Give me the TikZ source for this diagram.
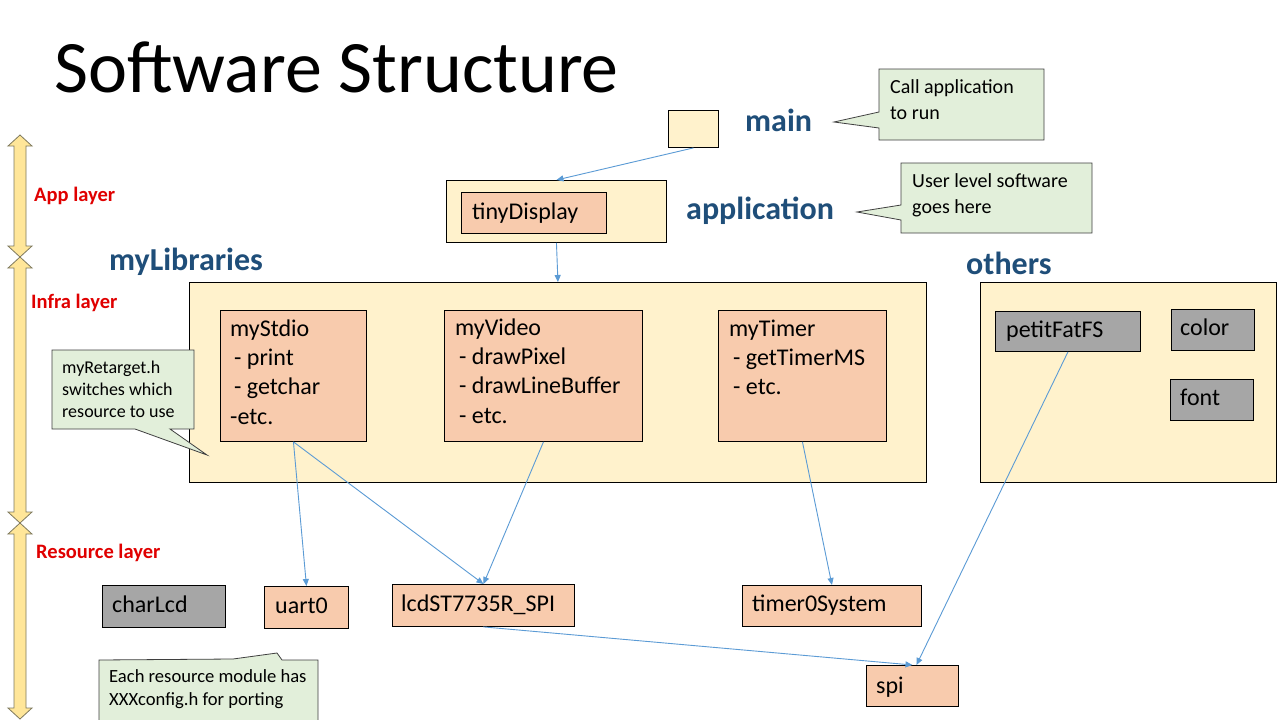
\documentclass[tikz,border=0pt]{standalone}
\usepackage{fontspec}
\setmainfont{Carlito}
\usetikzlibrary{arrows.meta}

\definecolor{peach}{HTML}{F8CBAD}
\definecolor{cream}{HTML}{FFF2CC}
\definecolor{greybox}{HTML}{A6A6A6}
\definecolor{notegreen}{HTML}{E2EFDA}
\definecolor{notedge}{HTML}{3F3F3F}
\definecolor{headblue}{HTML}{1F4E79}
\definecolor{wire}{HTML}{5B9BD5}
\definecolor{layerred}{HTML}{E00000}
\definecolor{layerfill}{HTML}{FFE699}
\definecolor{layerline}{HTML}{7F7A5E}

% vertical double arrow marking one layer, from y=#1 down to y=#2
\newcommand\layerarrow[2]{%
  \draw[layer] (20,#1) -- (32,{#1+11}) -- (26,{#1+11}) -- (26,{#2-11}) -- (32,{#2-11})
    -- (20,#2) -- (8,{#2-11}) -- (14,{#2-11}) -- (14,{#1+11}) -- (8,{#1+11}) -- cycle;}

\begin{document}
\begin{tikzpicture}[x=1pt,y=-1pt,
  box/.style={draw=black, line width=0.9pt, inner sep=0pt, anchor=north west},
  modtext/.style={inner sep=0pt, anchor=base west, font=\fontsize{24}{29.3}\selectfont},
  listtext/.style={inner sep=0pt, anchor=north west, align=left, font=\fontsize{24}{29.3}\selectfont},
  heading/.style={inner sep=0pt, anchor=base west, text=headblue, font=\fontsize{32}{38}\selectfont\bfseries},
  layername/.style={inner sep=0pt, anchor=base west, text=layerred, font=\fontsize{20.5}{24}\selectfont\bfseries},
  note/.style={draw=notedge, fill=notegreen, line width=0.8pt, line join=miter},
  notetext/.style={inner sep=0pt, anchor=north west, align=left},
  conn/.style={draw=wire, line width=0.9pt, -{Triangle[length=7pt,width=6pt]}},
  layer/.style={draw=layerline, fill=layerfill, line width=0.8pt, line join=miter},
]
\useasboundingbox (0,0) rectangle (1280,720);
\fill[white] (0,0) rectangle (1280,720);

% title
\node[inner sep=0pt, anchor=base west, font=\fontsize{74}{82}\selectfont] (title) at (54,92) {Software Structure};

% layer markers
\layerarrow{135}{257}
\layerarrow{257}{523}
\layerarrow{523}{719}
\node[layername] (applayer) at (34,201) {App layer};
\node[layername] (infralayer) at (31,308) {Infra layer};
\node[layername] (reslayer) at (36,558) {Resource layer};

% main and application
\node[box, fill=cream, minimum width=50, minimum height=37] (main) at (668,110) {};
\node[heading] (mainlbl) at (745,131) {main};
\node[box, fill=cream, minimum width=220, minimum height=62] (app) at (446,180) {};
\node[box, fill=peach, minimum width=145, minimum height=41] (tiny) at (461,192) {};
\node[modtext] (tinyt) at (472,219.5) {tinyDisplay};
\node[heading] (applbl) at (686,219) {application};

% callouts for main and application
\draw[note] (879,69) -- (1044,69) -- (1044,140) -- (879,140) -- (879,128) -- (834,122) -- (879,112) -- cycle;
\node[notetext, font=\fontsize{20}{26}\selectfont] (note1) at (890,76) {\rule{0pt}{17pt}Call application\\to run};
\draw[note] (901,163) -- (1092,163) -- (1092,233) -- (901,233) -- (901,220) -- (857,212) -- (901,205) -- cycle;
\node[notetext, font=\fontsize{20}{26}\selectfont] (note2) at (912,170) {\rule{0pt}{17pt}User level software\\goes here};

% myLibraries
\node[heading] (libslbl) at (109,270) {myLibraries};
\node[box, fill=cream, minimum width=737, minimum height=200] (libs) at (189,282) {};
\node[box, fill=peach, minimum width=146, minimum height=131] (stdio) at (220,310) {};
\node[listtext] (stdiot) at (230,316) {\rule{0pt}{20pt}myStdio\\\hspace{4pt}- print\\\hspace{4pt}- getchar\\-etc.};
\node[box, fill=peach, minimum width=198, minimum height=131] (video) at (444,310) {};
\node[listtext] (videot) at (455,315) {\rule{0pt}{20pt}myVideo\\\hspace{4pt}- drawPixel\\\hspace{4pt}- drawLineBuffer\\\hspace{4pt}- etc.};
\node[box, fill=peach, minimum width=168, minimum height=131] (timer) at (718,310) {};
\node[listtext] (timert) at (729,316) {\rule{0pt}{20pt}myTimer\\\hspace{4pt}- getTimerMS\\\hspace{4pt}- etc.};

% retarget callout
\draw[note] (52,350) -- (194,350) -- (194,429) -- (170,429) -- (207,455) -- (135,429) -- (52,429) -- cycle;
\node[notetext, font=\fontsize{18}{22}\selectfont] (note3) at (62,358) {\rule{0pt}{15pt}myRetarget.h\\switches which\\resource to use};

% others
\node[heading] (otherslbl) at (966,274) {others};
\node[box, fill=cream, minimum width=296, minimum height=200] (others) at (980,282) {};
\node[box, fill=greybox, minimum width=145, minimum height=40] (petit) at (995,311) {};
\node[modtext] (petitt) at (1006,337) {petitFatFS};
\node[box, fill=greybox, minimum width=83, minimum height=41] (color) at (1171,309) {};
\node[modtext] (colort) at (1180,335) {color};
\node[box, fill=greybox, minimum width=83, minimum height=41] (font) at (1170,379) {};
\node[modtext] (fontt) at (1180,405) {font};

% resource layer modules
\node[box, fill=greybox, minimum width=123, minimum height=42] (charlcd) at (102,585) {};
\node[modtext] (charlcdt) at (112,612) {charLcd};
\node[box, fill=peach, minimum width=84, minimum height=42] (uart) at (264,586) {};
\node[modtext] (uartt) at (275,613) {uart0};
\node[box, fill=peach, minimum width=182, minimum height=42] (lcd) at (392,584) {};
\node[modtext] (lcdt) at (401,611) {lcdST7735R\_SPI};
\node[box, fill=peach, minimum width=179, minimum height=41] (tsys) at (742,585) {};
\node[modtext] (tsyst) at (752,611) {timer0System};
\node[box, fill=peach, minimum width=92, minimum height=41] (spi) at (866,665) {};
\node[modtext] (spit) at (876,693) {spi};

% porting callout
\draw[note] (99,660) -- (233,659) -- (277,653) -- (282,660) -- (318,660) -- (318,724) -- (99,724) -- cycle;
\node[notetext, font=\fontsize{18.6}{23}\selectfont] (note4) at (109,667) {\rule{0pt}{15pt}Each resource module has\\XXXconfig.h for porting};

% dependencies
\draw[conn] (main.south) -- (app.north);
\draw[conn] (app.south) -- (libs.north);
\draw[conn] (stdio.south) -- (uart.north);
\draw[conn] (stdio.south) -- (lcd.north);
\draw[conn] (video.south) -- (lcd.north);
\draw[conn] (timer.south) -- (tsys.north);
\draw[conn] (lcd.south) -- (spi.north);
\draw[conn] (petit.south) -- ([xshift=4pt]spi.north);
\end{tikzpicture}
\end{document}
